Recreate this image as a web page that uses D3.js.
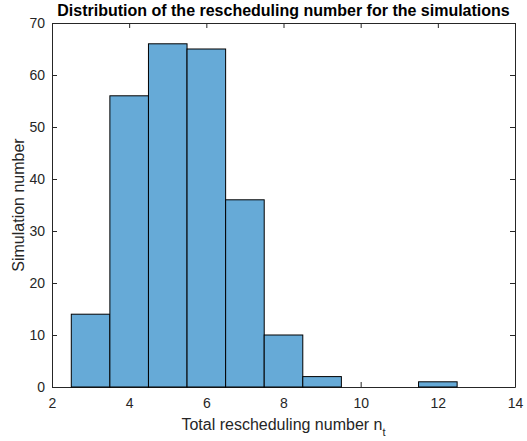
<!DOCTYPE html>
<html>
<head>
<meta charset="utf-8">
<script src="https://cdn.jsdelivr.net/npm/d3@7"></script>
<style>
  body { margin: 0; background: #fff; }
  svg { font-family: "Liberation Sans", Arial, sans-serif; }
</style>
</head>
<body>
<svg id="chart" width="527" height="441"></svg>
<script>
// histogram bins (edges) and counts
const binStarts = [2.5, 3.5, 4.5, 5.5, 6.5, 7.5, 8.5, 9.5, 10.5, 11.5];
const binWidth = 1;
const counts = [14, 56, 66, 65, 36, 10, 2, 0, 0, 1];
const xTicks = [2, 4, 6, 8, 10, 12, 14];
const yTicks = [0, 10, 20, 30, 40, 50, 60, 70];

const title = 'Distribution of the rescheduling number for the simulations';

const margin = { left: 52, right: 12, top: 23, bottom: 54 };
const width = 527;
const height = 441;
const innerWidth = width - margin.left - margin.right;
const innerHeight = height - margin.top - margin.bottom;
const axisColor = '#262626';

const svg = d3.select('#chart');

const x = d3.scaleLinear().domain([2, 14]).range([0, innerWidth]);
const y = d3.scaleLinear().domain([0, 70]).range([innerHeight, 0]);

const g = svg.append('g')
  .attr('transform', 'translate(' + margin.left + ',' + margin.top + ')');

// axes (ticks inward, matlab style), drawn below the bars
const tickLen = 5;
const xAxis = g.append('g')
  .attr('transform', 'translate(0,' + innerHeight + ')')
  .call(d3.axisBottom(x).tickValues(xTicks).tickSizeInner(-tickLen).tickSizeOuter(0).tickPadding(11));
const xTop = g.append('g')
  .call(d3.axisTop(x).tickValues(xTicks).tickSizeInner(-tickLen).tickSizeOuter(0));
const yAxis = g.append('g')
  .call(d3.axisLeft(y).tickValues(yTicks).tickSizeInner(-tickLen).tickSizeOuter(0).tickPadding(7));
const yRight = g.append('g')
  .attr('transform', 'translate(' + innerWidth + ',0)')
  .call(d3.axisRight(y).tickValues(yTicks).tickSizeInner(-tickLen).tickSizeOuter(0));

// box sides carry no labels
xTop.selectAll('text').remove();
yRight.selectAll('text').remove();

[xAxis, xTop, yAxis, yRight].forEach(function(a) {
  a.selectAll('path, line').attr('stroke', axisColor).attr('stroke-width', 1);
  a.selectAll('text').attr('fill', axisColor).style('font-size', '14px')
    .style('font-family', '"Liberation Sans", Arial, sans-serif');
});

// bars
g.selectAll('rect.bar')
  .data(counts)
  .enter()
  .append('rect')
  .attr('class', 'bar')
  .attr('x', function(d, i) { return x(binStarts[i]); })
  .attr('width', function(d, i) { return x(binStarts[i] + binWidth) - x(binStarts[i]); })
  .attr('y', function(d) { return y(d); })
  .attr('height', function(d) { return y(0) - y(d); })
  .attr('fill', '#66aad7')
  .attr('stroke', '#000')
  .attr('stroke-width', 1);

// title
svg.append('text')
  .attr('x', margin.left + innerWidth / 2)
  .attr('y', 16)
  .attr('text-anchor', 'middle')
  .style('font-size', '16px')
  .style('font-weight', 'bold')
  .attr('fill', '#000')
  .text(title);

// x label
const xl = svg.append('text')
  .attr('x', margin.left + innerWidth / 2)
  .attr('y', 430)
  .attr('text-anchor', 'middle')
  .style('font-size', '16px')
  .attr('fill', axisColor)
  .text('Total rescheduling number n');
xl.append('tspan')
  .attr('dy', 6)
  .style('font-size', '11px')
  .text('t');

// y label
svg.append('text')
  .attr('transform', 'translate(24,' + (margin.top + innerHeight / 2) + ') rotate(-90)')
  .attr('text-anchor', 'middle')
  .style('font-size', '16px')
  .attr('fill', axisColor)
  .text('Simulation number');
</script>
</body>
</html>
